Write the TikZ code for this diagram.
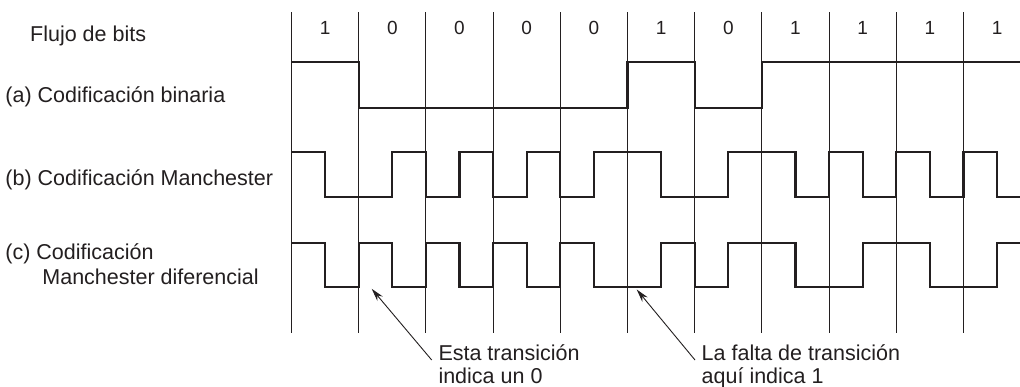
\documentclass[tikz,border=0pt]{standalone}
\usepackage{fontspec}
\setmainfont{Liberation Sans}
\usetikzlibrary{arrows.meta,calc}
\definecolor{ink}{HTML}{231F20}
\begin{document}
\begin{tikzpicture}[x=1pt,y=-1pt,
  gridline/.style={draw=ink, line width=1pt},
  sig/.style={draw=ink, line width=2.3pt, line join=miter},
  lbl/.style={anchor=base west, inner sep=0pt, text=ink, font=\fontsize{21.5}{25}\selectfont, align=left},
  bitlbl/.style={anchor=base, inner sep=0pt, text=ink, font=\fontsize{19}{22}\selectfont},
  note/.style={anchor=base west, inner sep=0pt, text=ink, font=\fontsize{21.5}{22.5}\selectfont, align=left},
  pointer/.style={draw=ink, line width=0.9pt, -{Stealth[length=13pt,width=7pt]}}]
\useasboundingbox[fill=white] (0,0) rectangle (1020,386);

% grid of bit boundaries
\foreach \k in {0,...,10}
  \draw[gridline] ({291.5+67.2*\k},12) -- ({291.5+67.2*\k},333);

% bit values
\foreach \b [count=\i from 0] in {1,0,0,0,0,1,0,1,1,1,1}
  \node[bitlbl] (bit\i) at ({325.1+67.2*\i},34.5) {\b};

% row labels
\node[lbl] (flujo) at (30,41) {Flujo de bits};
\node[lbl] (la) at (5.2,102) {(a) Codificación binaria};
\node[lbl] (lb) at (5.2,185) {(b) Codificación Manchester};
\node[lbl] (lc) at (5.2,284.3) {(c) Codificación\\\hspace*{37pt}Manchester diferencial};

% (a) binary
\draw[sig] (291.5,61.7) -- (358.7,61.7) -- (358.7,107.7) -- (627.5,107.7)
  -- (627.5,61.7) -- (694.7,61.7) -- (694.7,107.7) -- (761.9,107.7)
  -- (761.9,61.7) -- (1020,61.7);

% (b) Manchester
\begin{scope}[sig]
\def\H{151.7}\def\L{196.7}
\draw (291.5,\H) -- (325.1,\H) -- (325.1,\L) -- (392.3,\L) -- (392.3,\H)
  -- (425.9,\H) -- (425.9,\L) -- (459.5,\L) -- (459.5,\H) -- (493.1,\H)
  -- (493.1,\L) -- (526.7,\L) -- (526.7,\H) -- (560.3,\H) -- (560.3,\L)
  -- (593.9,\L) -- (593.9,\H) -- (661.1,\H) -- (661.1,\L) -- (728.3,\L)
  -- (728.3,\H) -- (795.5,\H) -- (795.5,\L) -- (829.1,\L) -- (829.1,\H)
  -- (862.7,\H) -- (862.7,\L) -- (896.3,\L) -- (896.3,\H) -- (929.9,\H)
  -- (929.9,\L) -- (963.5,\L) -- (963.5,\H) -- (997.1,\H) -- (997.1,\L)
  -- (1020,\L);
\end{scope}

% (c) differential Manchester
\begin{scope}[sig]
\def\H{243.3}\def\L{286.7}
\draw (291.5,\H) -- (325.1,\H) -- (325.1,\L) -- (358.7,\L) -- (358.7,\H)
  -- (392.3,\H) -- (392.3,\L) -- (425.9,\L) -- (425.9,\H) -- (459.5,\H)
  -- (459.5,\L) -- (493.1,\L) -- (493.1,\H) -- (526.7,\H) -- (526.7,\L)
  -- (560.3,\L) -- (560.3,\H) -- (593.9,\H) -- (593.9,\L) -- (661.1,\L)
  -- (661.1,\H) -- (694.7,\H) -- (694.7,\L) -- (728.3,\L) -- (728.3,\H)
  -- (795.5,\H) -- (795.5,\L) -- (862.7,\L) -- (862.7,\H) -- (929.9,\H)
  -- (929.9,\L) -- (997.1,\L) -- (997.1,\H) -- (1020,\H);
\end{scope}

% annotations (base anchor = baseline of the last line)
\node[note] (esta) at (438.3,383) {Esta transición\\indica un 0};
\node[note] (falta) at (701.5,383) {La falta de transición\\aquí indica 1};
\coordinate (tip1) at (371.7,288.8);
\coordinate (tip2) at (636.7,289.5);
\draw[pointer] ($(esta.base west)+(-6.6,-23)$) -- (tip1);
\draw[pointer] ($(falta.base west)+(-6.5,-23)$) -- (tip2);
\end{tikzpicture}
\end{document}
